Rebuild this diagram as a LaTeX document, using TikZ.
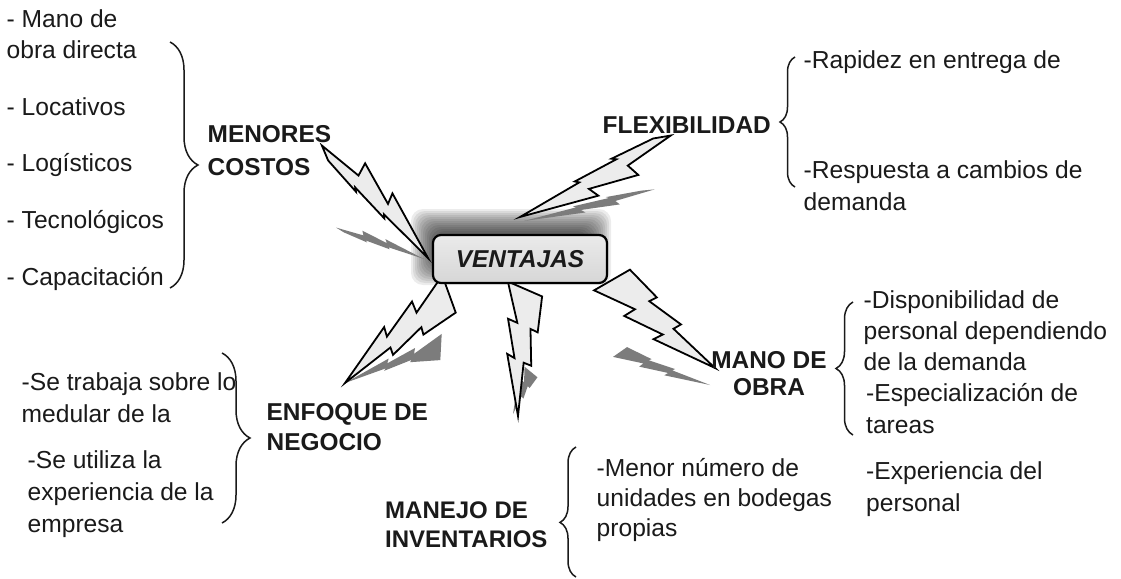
\documentclass[tikz,border=0pt]{standalone}
\usepackage{fontspec}
\setmainfont{Liberation Sans}
\usetikzlibrary{decorations.pathreplacing,calc}
\definecolor{ink}{HTML}{1A1A1A}
\definecolor{boltfill}{HTML}{ECECEC}
\definecolor{shad}{HTML}{7C7C7C}

\newcommand\Bpt[3]{\coordinate (#1) at ({\Bx+(#2)*(\Bdx)+(#3)*(\Bqx)},{\By+(#2)*(\Bdy)+(#3)*(\Bqy)});}
% #1 style, #2 #3 base centre, #4 #5 tip, #6 base width, #7 width on + side, #8 width on - side, #9 mirror
\newcommand\bolt[9]{%
 \def\Bx{#2}\def\By{#3}%
 \pgfmathsetmacro\Bdx{#4-#2}%
 \pgfmathsetmacro\Bdy{#5-#3}%
 \pgfmathsetmacro\Blen{veclen(\Bdx,\Bdy)}%
 \pgfmathsetmacro\Bqx{(#9)*(\Bdy)/\Blen}%
 \pgfmathsetmacro\Bqy{-(#9)*(\Bdx)/\Blen}%
 \Bpt{p1}{0.051}{0.5*#6}%
 \Bpt{p2}{0.335}{0.418*#7}%
 \Bpt{p3}{0.311}{0.213*#7}%
 \Bpt{p4}{0.600}{0.290*#7}%
 \Bpt{p5}{0.579}{0.075*#7}%
 \Bpt{p6}{1}{0}%
 \Bpt{p7}{0.517}{-0.473*#8}%
 \Bpt{p8}{0.547}{-0.222*#8}%
 \Bpt{p9}{0.241}{-0.510*#8}%
 \Bpt{p10}{0.269}{-0.193*#8}%
 \Bpt{p11}{-0.051}{-0.5*#6}%
 \path[#1] (p1)--(p2)--(p3)--(p4)--(p5)--(p6)--(p7)--(p8)--(p9)--(p10)--(p11)--cycle;
}

\tikzset{
 lab/.style={anchor=north west, inner sep=0pt, align=left, text=ink},
 boltst/.style={fill=boltfill, draw=black, line width=1.8pt},
 shadst/.style={fill=shad},
 brc/.style={draw=ink, line width=1.5pt, decorate, decoration={brace, amplitude=#1pt}},
}

\begin{document}
\begin{tikzpicture}[x=1pt,y=-1pt]
\useasboundingbox (0,0) rectangle (1121,578);
\fill[white] (0,0) rectangle (1121,578);

% glow behind the central box
\foreach \r in {-8,-6,...,14}{
  \fill[black, opacity=0.075, rounded corners=12pt] ({425-\r},{223-\r}) rectangle ({597+\r},{271+\r});
}

% shadows of the bolts
\bolt{shadst}{340}{230}{424}{259}{2}{7}{13}{-1}
\bolt{shadst}{648}{190}{524}{221}{2}{8}{14}{-1}
\bolt{shadst}{441}{347}{345}{383}{24}{8}{16}{1}
\bolt{shadst}{531}{372}{513}{414}{16}{12}{12}{1}
\bolt{shadst}{620}{352}{710}{385}{14}{10}{14}{1}

% bolts
\bolt{boltst}{325}{153}{428}{258}{6}{12}{42}{-1}
\bolt{boltst}{662}{137}{520}{217}{6}{14}{42}{-1}
\bolt{boltst}{449}{294}{345}{383}{37}{34}{36}{1}
\bolt{boltst}{525}{289}{518}{416}{35}{36}{30}{1}
\bolt{boltst}{612}{280}{715}{368}{39}{38}{38}{1}

% central box
\node[draw=black, line width=2.2pt, rounded corners=8pt, minimum width=174pt, minimum height=48pt,
      top color=white!92!black, bottom color=white!84!black, inner sep=0pt, text=ink,
      font=\fontsize{24.4}{28}\selectfont\bfseries\itshape] (v) at (520,259) {VENTAJAS};

% labels
\node[lab, font=\fontsize{24.4}{33}\selectfont\bfseries] (menores) at (207.5,118.9) {\strut MENORES\\COSTOS};
\node[lab, font=\fontsize{24.4}{31}\selectfont\bfseries] (flex) at (602.5,111.8) {\strut FLEXIBILIDAD};
\node[lab, font=\fontsize{24.4}{30}\selectfont\bfseries] (enfoque) at (266.5,399) {\strut ENFOQUE DE\\NEGOCIO};
\node[lab, font=\fontsize{24}{29}\selectfont\bfseries] (manejo) at (385,498) {\strut MANEJO DE\\INVENTARIOS};
\node[anchor=north, inner sep=0pt, align=center, text=ink, font=\fontsize{24.4}{27}\selectfont\bfseries] (manoobra) at (769,349.4) {\strut MANO DE\\OBRA};

% item texts
\node[lab, font=\fontsize{24.6}{31}\selectfont] (mano) at (6.5,5.6) {\strut- Mano de\\obra directa};
\node[lab, font=\fontsize{24.6}{31}\selectfont] (loc) at (6.5,93.3) {\strut- Locativos};
\node[lab, font=\fontsize{24.6}{31}\selectfont] (logi) at (6.5,150) {\strut- Logísticos};
\node[lab, font=\fontsize{24.6}{31}\selectfont] (tec) at (6.5,206.6) {\strut- Tecnológicos};
\node[lab, font=\fontsize{24.6}{31}\selectfont] (cap) at (6.5,263.3) {\strut- Capacitación};

\node[lab, font=\fontsize{24.6}{31}\selectfont] (rap) at (803.5,46.6) {\strut-Rapidez en entrega de};
\node[lab, font=\fontsize{24.6}{32}\selectfont] (resp) at (803.5,155.9) {\strut-Respuesta a cambios de\\demanda};

\node[lab, font=\fontsize{24.6}{32}\selectfont] (trab) at (21.5,367.6) {\strut-Se trabaja sobre lo\\medular de la};
\node[lab, font=\fontsize{24.6}{32}\selectfont] (util) at (27.5,445.9) {\strut-Se utiliza la\\experiencia de la\\empresa};

\node[lab, font=\fontsize{24.6}{30}\selectfont] (menor) at (596.5,455.7) {\strut-Menor número de\\unidades en bodegas\\propias};

\node[lab, font=\fontsize{24.6}{31}\selectfont] (disp) at (863.5,286.6) {\strut-Disponibilidad de\\personal dependiendo\\de la demanda};
\node[lab, font=\fontsize{24.6}{31.6}\selectfont] (esp) at (866,379.6) {\strut-Especialización de\\tareas};
\node[lab, font=\fontsize{24.6}{32}\selectfont] (expe) at (866,456.6) {\strut-Experiencia del\\personal};

% braces
\coordinate (b1t) at (170,42);  \coordinate (b1b) at (170,288);
\draw[brc=28] (b1t) -- (b1b);
\coordinate (b2t) at (795,57);  \coordinate (b2b) at (795,187);
\draw[brc=15] (b2b) -- (b2t);
\coordinate (b3t) at (222,353); \coordinate (b3b) at (222,523);
\draw[brc=28] (b3t) -- (b3b);
\coordinate (b4t) at (576,447); \coordinate (b4b) at (576,577);
\draw[brc=16, decoration={aspect=0.42}] (b4b) -- (b4t);
\coordinate (b5t) at (853,302); \coordinate (b5b) at (853,435);
\draw[brc=17] (b5b) -- (b5t);
\end{tikzpicture}
\end{document}
